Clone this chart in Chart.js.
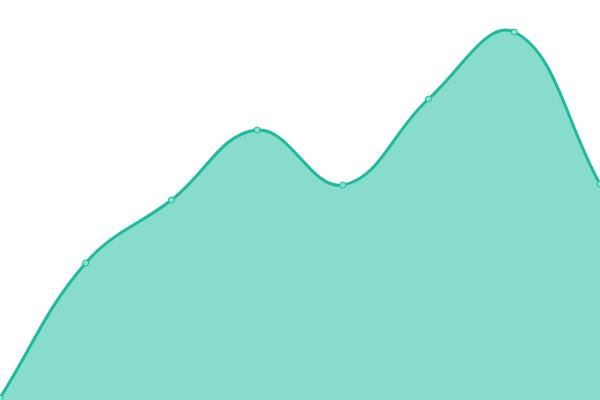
<!DOCTYPE html>
<html>
<head>
<meta charset="utf-8">
<script src="https://cdn.jsdelivr.net/npm/chart.js@4"></script>
<style>
	html, body { margin: 0; padding: 0; background: #fff; }
	#wrap { width: 600px; height: 400px; }
</style>
</head>
<body>
<div id="wrap"><canvas class="area-chart"></canvas></div>
<script>
const labels = ["1", "2", "3", "4", "5", "6", "7", "8"];
const values = [2, 137, 200, 270, 215, 301, 368, 216];

const lineColor = "rgba(26, 188, 156, 1)";
const fillColor = "rgba(26, 188, 156, 0.52)";

const renderChart = () => {
	const areaChart = document.querySelector(".area-chart");

	new Chart(areaChart, {
		type: "line",
		data: {
			labels: labels,
			datasets: [
				{
					data: values,
					fill: true,
					backgroundColor: fillColor,
					borderColor: lineColor,
					borderWidth: 3,
					tension: 0.4,
					pointRadius: 3,
					pointBackgroundColor: "rgba(140, 224, 208, 1)",
					pointBorderColor: lineColor,
					pointBorderWidth: 1,
				},
			],
		},
		options: {
			responsive: true,
			maintainAspectRatio: false,
			animation: false,
			layout: { padding: 0, autoPadding: false },
			plugins: {
				legend: { display: false },
				tooltip: { enabled: false },
			},
			scales: {
				x: { display: false },
				y: { display: false, min: 0, max: 400 },
			},
		},
	});
};

renderChart();
</script>
</body>
</html>
